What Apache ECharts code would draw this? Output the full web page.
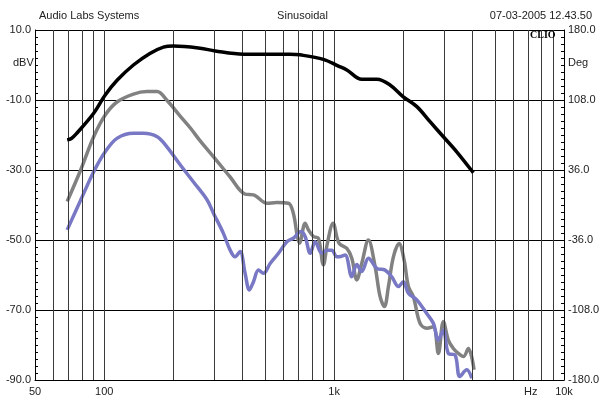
<!DOCTYPE html>
<html>
<head>
<meta charset="utf-8">
<script src="https://cdn.jsdelivr.net/npm/echarts@6/dist/echarts.min.js"></script>
<style>html,body{margin:0;padding:0;background:#fff;}#c{width:605px;height:401px;}</style>
</head>
<body>
<div id="c"></div>
<script>
// Vertical grid frequencies (Hz)
const freqGrid = [60,70,80,90,100,200,300,400,500,600,700,800,900,1000,2000,3000,4000,5000,6000,7000,8000,9000];

// Black curve (fundamental)
const blackFreq = [69,72,76,90,101,114,134,158,181,200,261,304,403,510,644,711,898,1044,1136,1319,1534,1751,2000,2290,2614,2987,3415,4034];
const blackDb   = [-21.4,-21.0,-19.5,-13.8,-8.6,-4.3,0,3.3,5.1,5.4,4.8,4.0,3.1,3.1,3.1,2.9,1.6,-0.3,-1.4,-4.1,-4.1,-5.7,-9.1,-11.9,-16.2,-20.5,-24.8,-30.8];

// Gray curve
const grayFreq = [69,79,90,101,114,134,153,170,187,214,237,261,304,353,410,446,510,563,633,665,692,707,748,773,813,855,898,935,990,1050,1136,1194,1255,1319,1410,1508,1585,1655,1723,1811,1917,2016,2104,2212,2365,2529,2702,2841,2987,3140,3302,3471,3650,3837,4062];
const grayDb   = [-39.0,-30,-20.5,-14.3,-10.5,-8.3,-7.6,-7.6,-10,-14.6,-18,-21.6,-26.8,-32,-36.9,-37.1,-39.5,-39.3,-39.5,-42.4,-49,-50.9,-45.2,-47.1,-49,-49.5,-57.1,-50.9,-45.2,-50.9,-52.4,-55.2,-61.4,-56.7,-50,-57.6,-66.2,-69.0,-63.3,-54.8,-51,-55.7,-63.3,-66.2,-73.8,-75.2,-74.8,-82.4,-73.3,-78.6,-81,-82.4,-83.3,-81,-87.1];

// Blue curve
const blueFreq = [69,79,90,101,114,134,148,170,187,214,245,280,299,330,353,371,390,410,428,446,469,493,527,573,623,665,717,748,787,827,884,930,977,1027,1051,1116,1194,1255,1319,1410,1534,1666,1782,1904,2001,2104,2288,2529,2702,2841,2987,3140,3360,3520,3776,3970];
const blueDb   = [-47.1,-38.6,-30.5,-24.8,-20.9,-19.5,-19.5,-20.5,-23.3,-28.5,-33.5,-38.5,-42.4,-48.1,-52.9,-54.8,-53.3,-59.5,-64.3,-61.9,-58.6,-59.5,-56.7,-53.8,-50.5,-49.5,-47.6,-49,-53.8,-50.5,-53.8,-52.9,-52.9,-54.8,-54.8,-54.3,-60.5,-57,-59.0,-55.2,-58.1,-58.6,-60.5,-63.3,-61.9,-65.2,-67.1,-71,-73.8,-78.6,-75.7,-82.4,-82.9,-89,-87.1,-89.5];

const zip = (a, b) => a.map((v, i) => [v, b[i]]);
const FONT = 'Liberation Sans';
const TXT = '#222';

const chart = echarts.init(document.getElementById('c'), null, {renderer: 'canvas'});
chart.setOption({
  animation: false,
  backgroundColor: '#fff',
  title: [
    {text: 'Audio Labs Systems', left: 34, top: 5, textStyle: {fontFamily: FONT, fontSize: 11, fontWeight: 'normal', color: TXT}},
    {text: 'Sinusoidal', left: 'center', top: 5, textStyle: {fontFamily: FONT, fontSize: 11, fontWeight: 'normal', color: TXT}},
    {text: '07-03-2005 12.43.50', right: 8, top: 5, textStyle: {fontFamily: FONT, fontSize: 11, fontWeight: 'normal', color: TXT}}
  ],
  grid: {left: 35, right: 41, top: 30, bottom: 21, containLabel: false},
  xAxis: {
    type: 'log', logBase: 10, min: 50, max: 10000,
    axisLine: {show: true, onZero: false, lineStyle: {color: '#000', width: 1}},
    axisTick: {show: false},
    splitLine: {show: false},
    axisLabel: {
      show: true, margin: 6, fontFamily: FONT, fontSize: 11, color: TXT,
      showMinLabel: true, showMaxLabel: true,
      formatter: v => v >= 1000 ? (v / 1000) + 'k' : String(v)
    }
  },
  yAxis: [
    {
      type: 'value', min: -90, max: 10, interval: 20, position: 'left',
      axisLine: {show: true, onZero: false, lineStyle: {color: '#000', width: 1}},
      axisTick: {show: true, inside: true, length: 3, lineStyle: {color: '#000'}},
      minorTick: {show: true, splitNumber: 10, length: 3, lineStyle: {color: '#000'}},
      splitLine: {show: true, lineStyle: {color: '#000', width: 1}},
      axisLabel: {margin: 4, fontFamily: FONT, fontSize: 11, color: TXT, formatter: v => v.toFixed(1)}
    },
    {
      type: 'value', min: -180, max: 180, interval: 72, position: 'right',
      axisLine: {show: true, onZero: false, lineStyle: {color: '#000', width: 1}},
      axisTick: {show: true, inside: true, length: 3, lineStyle: {color: '#000'}},
      minorTick: {show: true, splitNumber: 10, length: 3, lineStyle: {color: '#000'}},
      splitLine: {show: false},
      axisLabel: {margin: 4, fontFamily: FONT, fontSize: 11, color: TXT, formatter: v => v.toFixed(1)}
    }
  ],
  graphic: [
    {type: 'text', left: 13, top: 57, style: {text: 'dBV', font: '11px "Liberation Sans"', fill: TXT}},
    {type: 'text', left: 568, top: 57, style: {text: 'Deg', font: '11px "Liberation Sans"', fill: TXT}},
    {type: 'text', left: 524, top: 386, style: {text: 'Hz', font: '11px "Liberation Sans"', fill: TXT}},
    {type: 'text', left: 530, top: 30, z: 10, style: {text: 'CLIO', font: 'bold 10px "Liberation Serif"', fill: '#000'}}
  ],
  series: [
    {
      type: 'line', data: zip(grayFreq, grayDb), showSymbol: false, smooth: 0.35,
      lineStyle: {color: '#818181', width: 3.5}, z: 3,
      markLine: {
        silent: true, symbol: ['none', 'none'], animation: false,
        label: {show: false},
        lineStyle: {color: '#3a3a3a', width: 1, type: 'solid'},
        data: freqGrid.map(f => ({xAxis: f}))
      }
    },
    {type: 'line', data: zip(blueFreq, blueDb), showSymbol: false, smooth: 0.35, lineStyle: {color: '#7878c4', width: 3.5}, z: 4},
    {type: 'line', data: zip(blackFreq, blackDb), showSymbol: false, smooth: 0.35, lineStyle: {color: '#000', width: 3.5}, z: 5}
  ]
});
</script>
</body>
</html>
